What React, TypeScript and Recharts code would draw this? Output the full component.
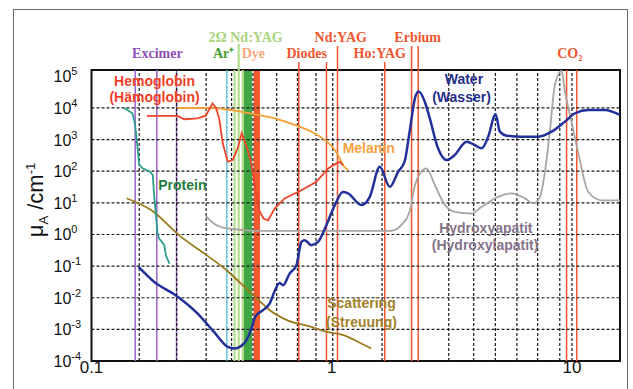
import React from 'react';
import {
  LineChart,
  Line,
  XAxis,
  YAxis,
  ReferenceLine,
  ReferenceArea,
  ReferenceDot,
} from 'recharts';

type Pt = [number, number];

// absorption curves, [wavelength µm, µA 1/cm]
const water: Pt[] = [
  [0.157, 0.094], [0.182, 0.032], [0.224, 0.012], [0.276, 0.0032], [0.324, 0.00082],
  [0.369, 0.00028], [0.393, 0.00025], [0.433, 0.00037], [0.466, 0.0012], [0.48, 0.0025],
  [0.516, 0.004], [0.552, 0.0066], [0.58, 0.017], [0.607, 0.029], [0.627, 0.025],
  [0.668, 0.058], [0.713, 0.106], [0.748, 0.58], [0.772, 0.66], [0.822, 0.46],
  [0.877, 0.58], [0.951, 2], [1.03, 8.5], [1.114, 22], [1.169, 20], [1.33, 8.5],
  [1.44, 15.5], [1.585, 138], [1.745, 32], [1.89, 96], [2.01, 200], [2.11, 1780],
  [2.22, 20000], [2.3, 33000], [2.44, 15800], [2.56, 4700], [2.77, 530], [3.01, 225],
  [3.25, 325], [3.64, 860], [3.94, 670], [4.21, 530], [4.48, 1230], [4.81, 6300],
  [5.01, 1780], [5.35, 1330], [6.17, 1230], [7.24, 1230], [8.23, 1780], [9.35, 3700],
  [10.3, 6800], [11.7, 8650], [13.7, 8650], [15.85, 6000],
];

const hemoglobin: Pt[] = [
  [0.17, 5600], [0.228, 5600], [0.243, 4400], [0.276, 4700], [0.299, 5700],
  [0.319, 14000], [0.33, 9800], [0.34, 4700], [0.352, 760], [0.369, 200],
  [0.387, 225], [0.406, 530], [0.422, 1580], [0.44, 670], [0.461, 200],
  [0.484, 22], [0.498, 6], [0.52, 3.2], [0.543, 2.8], [0.579, 6.6], [0.637, 13.8],
  [0.748, 25], [0.863, 46], [0.966, 123], [1.046, 177], [1.08, 199], [1.114, 156],
];

const melanin: Pt[] = [
  [0.228, 10000], [0.324, 9800], [0.478, 6300], [0.579, 4700], [0.702, 2900],
  [0.822, 1780], [0.935, 970], [1.03, 470], [1.08, 255], [1.114, 156], [1.169, 109],
];

const protein: Pt[] = [
  [0.137, 10000], [0.148, 6800], [0.151, 3700], [0.153, 1800], [0.158, 165],
  [0.163, 123], [0.174, 100], [0.18, 75], [0.182, 20], [0.185, 5.2], [0.188, 1.2],
  [0.191, 0.75], [0.201, 0.46], [0.204, 0.22], [0.211, 0.12],
];

const scattering: Pt[] = [
  [0.14, 14], [0.177, 5.9], [0.236, 0.84], [0.295, 0.25], [0.369, 0.069],
  [0.419, 0.028], [0.507, 0.0073], [0.543, 0.0045], [0.658, 0.0019], [0.796, 0.0013],
  [0.966, 0.00082], [1.13, 0.00065], [1.29, 0.0004], [1.46, 0.00025],
];

const hydroxyapatite: Pt[] = [
  [0.299, 3.9], [0.324, 2.2], [0.369, 1.55], [0.507, 1.3], [1.77, 1.3], [1.95, 2],
  [2.11, 5.2], [2.22, 36], [2.36, 96], [2.48, 123], [2.69, 36], [2.96, 8.5],
  [3.25, 5.2], [3.82, 4.6], [4.21, 7.5], [4.93, 15.5], [5.61, 20], [6.37, 13.8],
  [6.9, 9.6], [7.36, 15.5], [7.72, 96], [8.09, 1780], [8.49, 53000], [9.06, 150000],
  [9.35, 33000], [9.81, 6000], [10.6, 410], [11.7, 22], [13.3, 12], [15.85, 12],
];

// laser wavelengths (vertical lines) and bands
const excimerLines = [0.152, 0.187, 0.226];
const argonLines = [0.366];
const shgLines = [0.394, 0.426];
const shgMainLines = [0.41];
const diodeLines = [0.729, 0.951];
const ndYagLines = [1.057];
const hoYagLines = [1.663];
const erbiumLines = [2.15, 2.29];
const co2Lines = [9.5, 10.47];
const greenBand: [number, number] = [0.43, 0.466];
const dyeBand: [number, number] = [0.473, 0.503];

const laserNames = ['Excimer', '2Ω Nd:YAG', 'Ar⁺', 'Dye', 'Diodes', 'Nd:YAG', 'Ho:YAG', 'Erbium', 'CO₂'];
const laserNameX = [0.188, 0.438, 0.355, 0.472, 0.787, 1.09, 1.585, 2.28, 9.8];

const curveNames = [
  'Hemoglobin', '(Hämoglobin)', 'Protein', 'Melanin', 'Water', '(Wasser)',
  'Hydroxyapatit', '(Hydroxylapatit)', 'Scattering', '(Streuung)',
];
const curveNameX = [0.183, 0.183, 0.239, 1.426, 3.55, 3.47, 4.38, 4.35, 1.33, 1.33];
const curveNameY = [71600, 21800, 36, 530, 83000, 21800, 1.58, 0.457, 0.0066, 0.0017];

const X_DOMAIN: [number, number] = [0.1, 15.85];
const Y_DOMAIN: [number, number] = [1e-4, 1.585e5];
const xGrid = [0.158, 0.226, 0.3, 0.383, 0.47, 0.59, 0.72, 0.86, 1.01, 1.62, 3.07, 3.9, 4.8, 5.9, 7.2, 8.9, 10];
const xTicks = [0.1, 1, 10];
const yTicks = [1e-4, 1e-3, 1e-2, 1e-1, 1, 10, 100, 1e3, 1e4, 1e5];
const yGrid = [1e-3, 1e-2, 1e-1, 1, 10, 100, 1e3, 1e4];

const SANS = '"Liberation Sans", Arial, sans-serif';
const SERIF = '"Liberation Serif", "Times New Roman", serif';
const LASER_RED = '#f0552d';

const nameStyle: Record<string, { color: string; row: number }> = {
  Excimer: { color: '#8d4fb8', row: 1 },
  '2Ω Nd:YAG': { color: '#a9d47a', row: 0 },
  'Ar⁺': { color: '#3f9c2c', row: 1 },
  Dye: { color: '#f6a77a', row: 1 },
  Diodes: { color: LASER_RED, row: 1 },
  'Nd:YAG': { color: LASER_RED, row: 0 },
  'Ho:YAG': { color: LASER_RED, row: 1 },
  Erbium: { color: LASER_RED, row: 0 },
  'CO₂': { color: LASER_RED, row: 1 },
};

const curveLabelColor: Record<string, string> = {
  Hemoglobin: '#ef3e26',
  '(Hämoglobin)': '#ef3e26',
  Protein: '#1f7d3e',
  Melanin: '#f6a140',
  Water: '#1f2d8c',
  '(Wasser)': '#1f2d8c',
  Hydroxyapatit: '#84728a',
  '(Hydroxylapatit)': '#84728a',
  Scattering: '#a27f27',
  '(Streuung)': '#a27f27',
};

const laserGroups = [
  { xs: excimerLines, color: '#9c63c6', ext: 0, w: 1.5 },
  { xs: argonLines, color: '#4dbad3', ext: 0, w: 1.3 },
  { xs: shgLines, color: '#aedb84', ext: 0, w: 2 },
  { xs: shgMainLines, color: '#aedb84', ext: 26, w: 2 },
  { xs: diodeLines, color: LASER_RED, ext: 8, w: 1.5 },
  { xs: ndYagLines, color: LASER_RED, ext: 24, w: 1.5 },
  { xs: hoYagLines, color: LASER_RED, ext: 8, w: 1.5 },
  { xs: erbiumLines, color: LASER_RED, ext: 24, w: 1.5 },
  { xs: co2Lines, color: LASER_RED, ext: 0, w: 1.5 },
];

const toData = (pts: Pt[]) => pts.map(([x, y]) => ({ x, y }));

const tallLine = (ext: number, color: string, w: number) => (p: any) => (
  <line
    x1={p.x1}
    x2={p.x2}
    y1={Math.min(p.y1, p.y2) - ext}
    y2={Math.max(p.y1, p.y2)}
    stroke={color}
    strokeWidth={w}
  />
);

// dashed grid line built from short segments (3px on, 2px off)
const dashedLine = (p: any) => {
  const x1 = Number(p.x1);
  const y1 = Number(p.y1);
  const x2 = Number(p.x2);
  const y2 = Number(p.y2);
  const len = Math.hypot(x2 - x1, y2 - y1);
  if (!isFinite(len) || len === 0) return <g />;
  const ux = (x2 - x1) / len;
  const uy = (y2 - y1) / len;
  let d = '';
  for (let s = 0; s < len; s += 5) {
    const e = Math.min(s + 3, len);
    d += `M${(x1 + ux * s).toFixed(2)},${(y1 + uy * s).toFixed(2)}L${(x1 + ux * e).toFixed(2)},${(y1 + uy * e).toFixed(2)}`;
  }
  return <path d={d} stroke="#1a1a1a" strokeWidth={1.2} fill="none" />;
};

const YTick = (props: any) => {
  const { x, y, payload } = props;
  const exp = Math.round(Math.log10(payload.value));
  return (
    <text x={x - 38} y={y + 6} fontFamily={SANS} fontSize={16} fill="#111" textAnchor="start">
      10
      <tspan dy={-7} fontSize={11}>
        {exp}
      </tspan>
    </text>
  );
};

const XTick = (props: any) => {
  const { x, y, payload } = props;
  return (
    <text x={x} y={y + 10} fontFamily={SANS} fontSize={17} fill="#111" textAnchor="middle">
      {payload.value}
    </text>
  );
};

export default function App() {
  return (
    <div style={{ position: 'absolute', left: 0, top: 0, width: 633, height: 389, overflow: 'hidden' }}>
      <div
        style={{
          position: 'absolute',
          left: 13,
          top: 9,
          width: 613,
          height: 400,
          border: '1.5px solid #6a6a6a',
        }}
      />
      <div
        style={{
          position: 'absolute',
          left: 37,
          top: 200,
          transform: 'translate(-50%, -50%) rotate(-90deg)',
          fontFamily: SANS,
          fontSize: 22,
          color: '#111',
          whiteSpace: 'nowrap',
        }}
      >
        μ<sub style={{ fontSize: 13 }}>A</sub> /cm<sup style={{ fontSize: 13 }}>-1</sup>
      </div>
      <div style={{ position: 'absolute', left: 0, top: 0 }}>
        <LineChart width={633} height={389} margin={{ top: 70, right: 13, bottom: 0, left: 0 }}>
          <XAxis
            dataKey="x"
            type="number"
            scale="log"
            domain={X_DOMAIN}
            allowDataOverflow
            ticks={xTicks}
            interval={0}
            tick={<XTick />}
            tickLine={false}
            axisLine={false}
            tickSize={0}
            height={28}
          />
          <YAxis
            dataKey="y"
            type="number"
            scale="log"
            domain={Y_DOMAIN}
            allowDataOverflow
            ticks={yTicks}
            interval={0}
            tick={<YTick />}
            tickLine={false}
            axisLine={false}
            tickSize={0}
            tickMargin={0}
            width={91.5}
          />

          <ReferenceArea x1={greenBand[0]} x2={greenBand[1]} y1={Y_DOMAIN[0]} y2={Y_DOMAIN[1]} fill="#3fa845" fillOpacity={1} stroke="none" />
          <ReferenceArea x1={dyeBand[0]} x2={dyeBand[1]} y1={Y_DOMAIN[0]} y2={Y_DOMAIN[1]} fill="#f15a2e" fillOpacity={1} stroke="none" />

          {laserGroups.map((g, gi) =>
            g.xs.map((v, i) => (
              <ReferenceLine
                key={`l${gi}-${i}`}
                x={v}
                stroke={g.color}
                strokeWidth={g.w}
                shape={tallLine(g.ext, g.color, g.w)}
              />
            ))
          )}

          {xGrid.map((v) => (
            <ReferenceLine key={`gx${v}`} x={v} stroke="#1a1a1a" strokeWidth={1.2} shape={dashedLine} />
          ))}
          {yGrid.map((v) => (
            <ReferenceLine key={`gy${v}`} y={v} stroke="#1a1a1a" strokeWidth={1.2} shape={dashedLine} />
          ))}

          {laserNames.map((n, i) => (
            <ReferenceLine
              key={`n${i}`}
              x={laserNameX[i]}
              stroke="none"
              label={{
                value: n,
                position: 'top',
                offset: nameStyle[n].row === 0 ? 28 : 12,
                fill: nameStyle[n].color,
                fontSize: 14,
                fontWeight: 'bold',
                fontFamily: SERIF,
              }}
            />
          ))}

          <Line data={toData(hydroxyapatite)} dataKey="y" type="monotone" stroke="#aaa5a0" strokeWidth={1.8} dot={false} isAnimationActive={false} />
          <Line data={toData(scattering)} dataKey="y" type="monotone" stroke="#9c7a1c" strokeWidth={1.8} dot={false} isAnimationActive={false} />
          <Line data={toData(protein)} dataKey="y" type="linear" stroke="#2a9d8c" strokeWidth={1.8} dot={false} isAnimationActive={false} />
          <Line data={toData(melanin)} dataKey="y" type="monotone" stroke="#f7a035" strokeWidth={1.8} dot={false} isAnimationActive={false} />
          <Line data={toData(hemoglobin)} dataKey="y" type="linear" stroke="#f0442a" strokeWidth={1.8} dot={false} isAnimationActive={false} />
          <Line data={toData(water)} dataKey="y" type="monotone" stroke="#22309a" strokeWidth={2.5} dot={false} isAnimationActive={false} />

          {curveNames.map((n, i) => (
            <ReferenceDot
              key={`c${i}`}
              x={curveNameX[i]}
              y={curveNameY[i]}
              r={0}
              stroke="none"
              fill="none"
              label={{
                value: n,
                position: 'center',
                fill: curveLabelColor[n],
                fontSize: 14,
                fontWeight: 'bold',
                fontFamily: SANS,
              }}
            />
          ))}

          <ReferenceArea
            x1={X_DOMAIN[0]}
            x2={X_DOMAIN[1]}
            y1={Y_DOMAIN[0]}
            y2={Y_DOMAIN[1]}
            fill="none"
            stroke="#111"
            strokeWidth={2}
          />
        </LineChart>
      </div>
    </div>
  );
}
